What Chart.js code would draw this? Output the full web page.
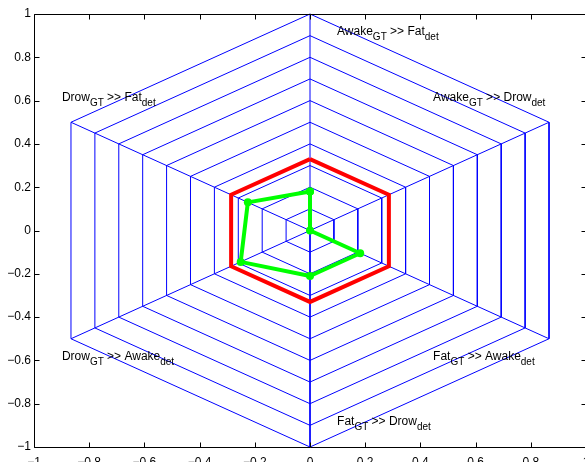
<!DOCTYPE html>
<html><head><meta charset="utf-8">
<script src="https://cdn.jsdelivr.net/npm/chart.js@4/dist/chart.umd.min.js"></script>
<style>html,body{margin:0;padding:0;overflow:hidden;background:#fff}canvas{display:block}</style>
</head><body>
<canvas id="c" width="600" height="462"></canvas>
<script>
// Spoke directions in degrees, clockwise starting from the top spoke
const axisAngles = [90, 30, -30, -90, -150, 150];
const axisNames = [
  'Awake_GT >> Fat_det',
  'Awake_GT >> Drow_det',
  'Fat_GT >> Awake_det',
  'Fat_GT >> Drow_det',
  'Drow_GT >> Awake_det',
  'Drow_GT >> Fat_det'
];
// Concentric grid rings
const ringLevels = [0.1, 0.2, 0.3, 0.4, 0.5, 0.6, 0.7, 0.8, 0.9, 1.0];
// Reference (chance) level and measured confusion values per spoke
const referenceValues = [0.33, 0.33, 0.33, 0.33, 0.33, 0.33];
const measuredValues = [0.18, 0.0, 0.21, 0.21, 0.29, 0.26];
const tickValues = [-1, -0.8, -0.6, -0.4, -0.2, 0, 0.2, 0.4, 0.6, 0.8, 1];

// Where each spoke caption starts (left edge, text baseline), in axis units
const captionAnchors = [
  [0.098, 0.905], [0.446, 0.600], [0.446, -0.600],
  [0.098, -0.898], [-0.899, -0.600], [-0.899, 0.600]
];

const rad = d => d * Math.PI / 180;
function polygon(values) {
  const pts = values.map((r, i) => ({ x: r * Math.cos(rad(axisAngles[i])), y: r * Math.sin(rad(axisAngles[i])) }));
  pts.push(pts[0]);
  return pts;
}
const fmt = v => {
  const s = String(Math.abs(Number(v.toFixed(1))));
  return v < -1e-9 ? '\u2212' + s : s;
};

const datasets = [];
datasets.push({
  data: polygon(measuredValues), borderColor: '#00ff00', backgroundColor: '#00ff00',
  borderWidth: 4, pointRadius: 4, pointBackgroundColor: '#00ff00', pointBorderColor: '#00ff00',
  pointBorderWidth: 0, borderJoinStyle: 'round', showLine: true, clip: false
});
datasets.push({
  data: polygon(referenceValues), borderColor: '#ff0000', borderWidth: 4, pointRadius: 0,
  borderJoinStyle: 'miter', showLine: true, clip: false
});
ringLevels.forEach(r => datasets.push({
  data: polygon(axisAngles.map(() => r)), borderColor: '#0000ff', borderWidth: 1,
  pointRadius: 0, showLine: true, clip: false
}));
axisAngles.forEach(a => datasets.push({
  data: [{ x: 0, y: 0 }, { x: Math.cos(rad(a)), y: Math.sin(rad(a)) }],
  borderColor: '#0000ff', borderWidth: 1, pointRadius: 0, showLine: true, clip: false
}));

const FONT = '"Liberation Sans", Arial, Helvetica, sans-serif';

// Axes box with inward tick marks on all four sides
const frame = {
  id: 'frame',
  afterDraw(chart) {
    const { ctx, chartArea: a, scales: { x, y } } = chart;
    ctx.save();
    ctx.strokeStyle = '#000';
    ctx.lineWidth = 1;
    ctx.beginPath();
    const L = Math.round(a.left) + 0.5, R = Math.round(a.right) + 0.5;
    const T = Math.round(a.top) + 0.5, B = Math.round(a.bottom) + 0.5;
    ctx.rect(L, T, R - L, B - T);
    const len = 5;
    tickValues.forEach(v => {
      const px = Math.round(x.getPixelForValue(v)) + 0.5;
      ctx.moveTo(px, B); ctx.lineTo(px, B - len);
      ctx.moveTo(px, T); ctx.lineTo(px, T + len);
      const py = Math.round(y.getPixelForValue(v)) + 0.5;
      ctx.moveTo(L, py); ctx.lineTo(L + len, py);
      ctx.moveTo(R, py); ctx.lineTo(R - len, py);
    });
    ctx.stroke();
    ctx.restore();
  }
};

// Spoke captions with subscripted parts (text after "_")
const captions = {
  id: 'captions',
  afterDatasetsDraw(chart) {
    const { ctx, scales: { x, y } } = chart;
    ctx.save();
    ctx.fillStyle = '#000';
    ctx.textBaseline = 'alphabetic';
    ctx.textAlign = 'left';
    axisNames.forEach((name, i) => {
      let px = x.getPixelForValue(captionAnchors[i][0]);
      const py = y.getPixelForValue(captionAnchors[i][1]);
      const parts = name.split(/_(\w+)/);
      parts.forEach((p, k) => {
        if (!p) return;
        const sub = k % 2 === 1;
        ctx.font = (sub ? '10px ' : '12px ') + FONT;
        ctx.fillText(p, px, py + (sub ? 5 : 0));
        px += ctx.measureText(p).width;
      });
    });
    ctx.restore();
  }
};

new Chart(document.getElementById('c'), {
  type: 'scatter',
  data: { datasets },
  options: {
    responsive: false,
    animation: false,
    events: [],
    layout: { padding: { top: 14, right: 14, left: 0, bottom: 0 } },
    plugins: { legend: { display: false }, tooltip: { enabled: false } },
    elements: { line: { tension: 0 } },
    scales: {
      x: {
        type: 'linear', min: -1, max: 1,
        afterBuildTicks: s => { s.ticks = tickValues.map(v => ({ value: v })); },
        afterFit: s => { s.height = 15; },
        grid: { display: false, drawTicks: false },
        border: { display: false },
        ticks: { callback: fmt, color: '#000', font: { family: FONT, size: 12 }, padding: 8, maxRotation: 0, autoSkip: false }
      },
      y: {
        type: 'linear', min: -1, max: 1,
        afterBuildTicks: s => { s.ticks = tickValues.map(v => ({ value: v })); },
        afterFit: s => { s.width = 34; },
        grid: { display: false, drawTicks: false },
        border: { display: false },
        ticks: { callback: fmt, color: '#000', font: { family: FONT, size: 12 }, padding: 3, autoSkip: false }
      }
    }
  },
  plugins: [captions, frame]
});
</script>
</body></html>
